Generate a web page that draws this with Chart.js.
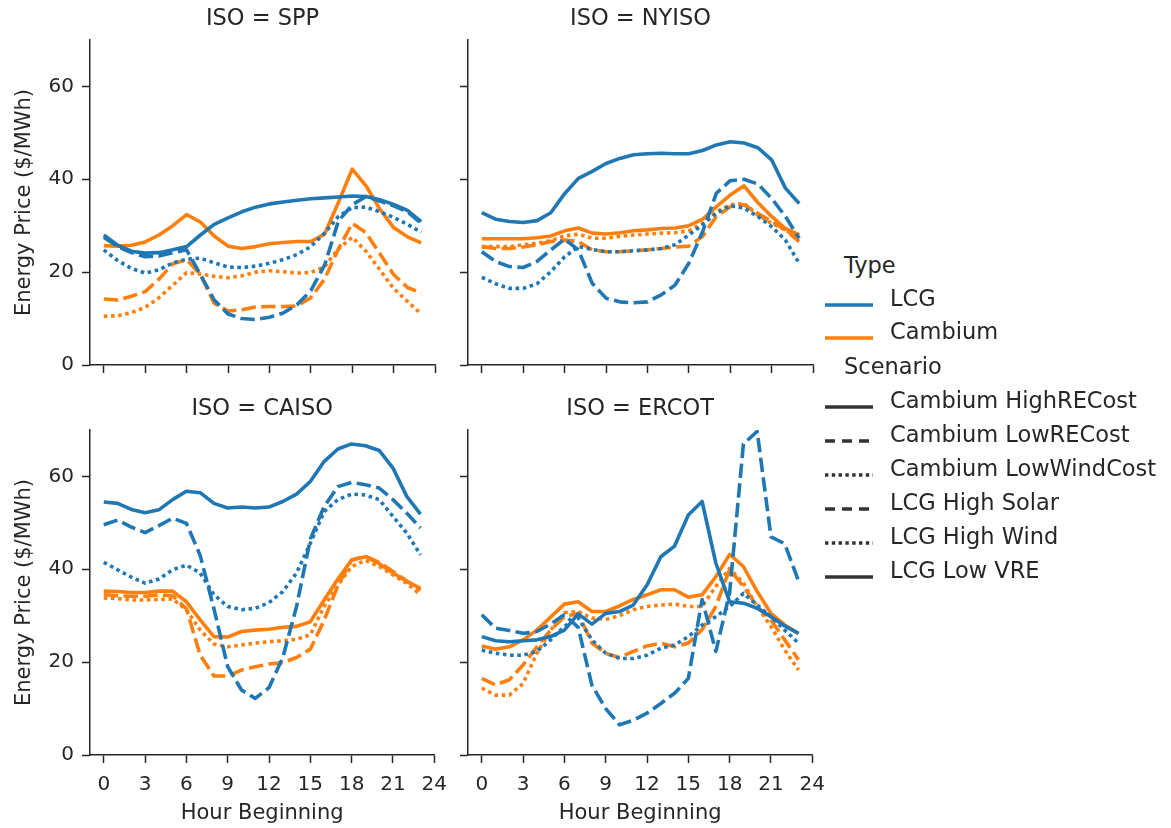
<!DOCTYPE html>
<html>
<head>
<meta charset="utf-8">
<script src="https://cdn.jsdelivr.net/npm/chart.js@4.4.1/dist/chart.umd.min.js"></script>
<style>
  body { margin: 0; background: #fff; width: 1171px; height: 828px; overflow: hidden;
         font-family: "DejaVu Sans", sans-serif; color: #262626; }
  canvas { position: absolute; }
  .row { position: absolute; height: 26px; line-height: 26px; font-size: 22.5px; white-space: nowrap; }
  .handle { position: absolute; left: 825px; width: 48px; height: 8px; }
</style>
</head>
<body>
<canvas id="spp" width="457" height="385" style="left:0;top:0"></canvas>
<canvas id="nyiso" width="385" height="385" style="left:450px;top:0"></canvas>
<canvas id="caiso" width="457" height="438" style="left:0;top:390px"></canvas>
<canvas id="ercot" width="385" height="438" style="left:450px;top:390px"></canvas>
<div id="legend"></div>
<script>
// hour of day, 0..23
const hours = [0, 1, 2, 3, 4, 5, 6, 7, 8, 9, 10, 11, 12, 13, 14, 15, 16, 17, 18, 19, 20, 21, 22, 23];
const xTicks = [0, 3, 6, 9, 12, 15, 18, 21, 24];
const yTicks = [0, 20, 40, 60];

// SPP
const sppLcgHighSolar = [27.5, 25.5, 24.2, 23.3, 23.5, 24.2, 24.8, 19.5, 14, 11, 10, 9.8, 10.3, 11.2, 13, 16, 21.5, 31, 34.5, 36.3, 35.3, 34.3, 33, 30.5];
const sppLcgHighWind = [24.8, 22.5, 20.8, 19.8, 20.5, 22, 22.8, 23, 22, 21.1, 21, 21.3, 21.9, 22.7, 23.8, 25.5, 28.4, 32, 33.9, 34, 33, 31.8, 30.3, 28.6];
const sppLcgLowVre = [28, 25.8, 24.5, 24.1, 24.2, 24.8, 25.5, 28, 30.3, 31.7, 33, 34, 34.7, 35.1, 35.5, 35.8, 36, 36.2, 36.4, 36.3, 35.6, 34.6, 33.3, 30.9];
const sppCamHighRe = [25.7, 25.6, 25.8, 26.5, 28, 30, 32.4, 30.8, 27.8, 25.6, 25.1, 25.5, 26.1, 26.4, 26.6, 26.6, 28.2, 35, 42.2, 38.6, 33.6, 29.6, 27.6, 26.3];
const sppCamLowRe = [14.2, 14, 14.8, 15.8, 18.5, 21.8, 22.7, 19.5, 13.3, 11.6, 11.9, 12.5, 12.6, 12.6, 12.7, 14.5, 18.5, 25, 30.5, 28.5, 24, 19.5, 16.7, 15.5];
const sppCamLowWind = [10.5, 10.6, 11.3, 12.4, 14.5, 17.2, 19.9, 19.6, 19.1, 18.8, 19.2, 20, 20.3, 20.1, 19.8, 19.9, 21.2, 25, 27.5, 24.5, 20.5, 16.5, 13.7, 11];

// NYISO
const nyLcgHighSolar = [24.4, 22.3, 21.2, 21, 22.3, 24.8, 27.1, 24.8, 17.6, 14.4, 13.6, 13.4, 13.6, 15.1, 17.2, 21.9, 28.7, 37, 39.7, 40, 39, 35.9, 32, 27.3];
const nyLcgHighWind = [18.9, 17.5, 16.5, 16.5, 17.5, 20.1, 23.3, 25.5, 24.9, 24.4, 24.4, 24.6, 24.8, 25.1, 25.9, 28, 30.2, 32.7, 34.3, 33.8, 32, 29.8, 26.9, 21.9];
const nyLcgLowVre = [32.8, 31.4, 30.9, 30.7, 31.1, 32.8, 36.9, 40.2, 41.7, 43.4, 44.5, 45.3, 45.5, 45.6, 45.5, 45.5, 46.2, 47.4, 48.1, 47.8, 46.8, 44.2, 38.1, 34.8];
const nyCamHighRe = [27.2, 27.2, 27.2, 27.2, 27.4, 27.8, 28.9, 29.5, 28.4, 28.2, 28.5, 28.9, 29.1, 29.4, 29.5, 30, 31.4, 34.1, 36.6, 38.6, 35, 32, 29.4, 28];
const nyCamLowRe = [25.5, 25.1, 25.1, 25.4, 25.9, 26.6, 26.9, 26.6, 24.8, 24.4, 24.4, 24.6, 24.8, 25.1, 25.4, 25.6, 27.7, 32, 34.1, 34.5, 32.7, 30.9, 29.1, 26.6];
const nyCamLowWind = [25.5, 25.5, 25.5, 25.9, 26.2, 26.8, 27.8, 28.2, 27.3, 27.3, 27.7, 28, 28.2, 28.4, 28.5, 28.9, 30.5, 33, 34.5, 34.8, 32.3, 30.5, 29.1, 27.1];

// CAISO
const caLcgHighSolar = [49.6, 50.6, 49.1, 47.9, 49.4, 51, 49.9, 43, 31.5, 19, 14, 12.2, 14.5, 21, 32, 46.5, 53.5, 57.8, 58.7, 58.2, 57.5, 55, 52.1, 48.9];
const caLcgHighWind = [41.5, 39.9, 38.3, 37, 37.9, 39.9, 40.9, 39.2, 34.5, 32, 31.3, 31.6, 32.8, 35.2, 39.2, 45.6, 52.4, 55, 56.2, 56, 55, 51.4, 47.8, 43.1];
const caLcgLowVre = [54.5, 54.2, 52.9, 52.2, 52.8, 55, 56.8, 56.5, 54.2, 53.2, 53.4, 53.2, 53.4, 54.6, 56.2, 58.9, 63.2, 65.9, 67, 66.6, 65.6, 61.8, 55.7, 51.9];
const caCamHighRe = [35.3, 35.2, 35, 35, 35.3, 35.3, 33, 29.1, 25.5, 25.4, 26.6, 26.9, 27.1, 27.5, 27.7, 28.7, 33.4, 37.9, 42, 42.7, 41.2, 39.2, 37.4, 35.9];
const caCamLowRe = [34.5, 34.3, 34.2, 34.2, 34.5, 34.3, 31.5, 21.5, 17, 17, 18.3, 19, 19.6, 19.9, 21, 22.8, 29, 36.5, 42, 42.8, 41.5, 39.5, 37.5, 35.5];
const caCamLowWind = [33.8, 33.7, 33.4, 33.4, 33.5, 33.6, 31.3, 26.9, 23.9, 23.3, 23.7, 24.1, 24.4, 24.6, 24.9, 25.9, 32, 36.6, 40.6, 41.9, 40.6, 38.8, 37, 34.5];

// ERCOT
const erLcgHighSolar = [30.2, 27.3, 26.8, 26.2, 26.6, 28.2, 30.2, 27.5, 15, 10, 6.5, 7.5, 9, 11.1, 13.3, 16.5, 33.5, 22.3, 35, 67, 69.7, 47, 45.5, 37.5];
const erLcgHighWind = [22.6, 21.9, 21.5, 21.5, 22.3, 24.8, 27.7, 29.5, 24.8, 21.9, 20.8, 20.8, 21.5, 23, 23.7, 25.5, 28, 29.8, 32, 34.8, 32.3, 29.8, 26.9, 24.1];
const erLcgLowVre = [25.5, 24.6, 24.4, 24.6, 24.8, 25.5, 26.9, 30.4, 28.2, 30.5, 30.9, 32.3, 36.6, 42.7, 45, 51.7, 54.6, 41.3, 33, 32.7, 31.6, 29.8, 27.8, 26.2];
const erCamHighRe = [23.5, 22.8, 23.3, 24.8, 26.9, 29.7, 32.5, 33, 30.9, 30.9, 32.1, 33.5, 34.5, 35.6, 35.6, 34, 34.5, 38.4, 43.2, 40.6, 35.2, 30.5, 28, 26.1];
const erCamLowRe = [16.5, 15.1, 16.2, 19.4, 23.3, 26.9, 29.8, 30.5, 24.1, 21.9, 21, 22.3, 23.5, 24.1, 23.3, 24.1, 27, 32, 40, 36.3, 32, 29.1, 24.8, 20.5];
const erCamLowWind = [14.4, 12.9, 12.9, 15.4, 21.9, 26.9, 30.7, 30.9, 29.5, 29.2, 30, 31.3, 32, 32.3, 32.5, 32, 32, 36.3, 40.2, 37, 32, 27.7, 22.6, 18.3];

const blue = '#1f77b4';
const orange = '#ff7f0e';
const ink = '#262626';
const lw = 3.6;
const solid = [];
const dashed = [4 * lw, 1.5 * lw];
const dotted = [lw, lw];

Chart.defaults.font.family = '"DejaVu Sans", sans-serif';
Chart.defaults.color = ink;

function line(values, color, dash) {
  return {
    data: values, borderColor: color, borderDash: dash, borderWidth: lw,
    pointRadius: 0, tension: 0, fill: false,
    borderJoinStyle: 'round', borderCapStyle: 'butt'
  };
}

function drawPanel(id, title, sets, bottomRow, leftCol) {
  new Chart(document.getElementById(id), {
    type: 'line',
    data: { labels: hours, datasets: sets },
    options: {
      responsive: false,
      animation: false,
      layout: { padding: { left: 0, right: 22, top: 0, bottom: 0 } },
      plugins: {
        legend: { display: false },
        tooltip: { enabled: false },
        title: {
          display: true, text: title, fullSize: false, color: ink,
          font: { size: 22.5, weight: 'normal' }, padding: { top: 6, bottom: 7 }
        }
      },
      scales: {
        x: {
          type: 'linear', min: -1, max: 24,
          afterBuildTicks: sc => { sc.ticks = xTicks.map(v => ({ value: v })); },
          afterFit: sc => { sc.height = bottomRow ? 73 : 20; },
          grid: { drawOnChartArea: false, drawTicks: true, tickLength: 8, tickWidth: 1.5, tickColor: ink },
          border: { display: true, color: ink, width: 1.5 },
          ticks: { display: bottomRow, font: { size: 20 }, padding: 10, color: ink, maxRotation: 0, autoSkip: false },
          title: { display: bottomRow, text: 'Hour Beginning', color: ink, font: { size: 21 }, padding: { top: 0, bottom: 2 } }
        },
        y: {
          min: 0, max: 70,
          afterBuildTicks: sc => { sc.ticks = yTicks.map(v => ({ value: v })); },
          afterFit: sc => { sc.width = leftCol ? 90 : 18; },
          grid: { drawOnChartArea: false, drawTicks: true, tickLength: 8, tickWidth: 1.5, tickColor: ink },
          border: { display: true, color: ink, width: 1.5 },
          ticks: { display: leftCol, font: { size: 20 }, padding: 8, color: ink },
          title: { display: leftCol, text: 'Energy Price ($/MWh)', color: ink, font: { size: 21 }, padding: { top: 12, bottom: 0 } }
        }
      }
    }
  });
}

drawPanel('spp', 'ISO = SPP', [
  line(sppLcgHighSolar, blue, dashed), line(sppLcgHighWind, blue, dotted), line(sppLcgLowVre, blue, solid),
  line(sppCamHighRe, orange, solid), line(sppCamLowRe, orange, dashed), line(sppCamLowWind, orange, dotted)
], false, true);

drawPanel('nyiso', 'ISO = NYISO', [
  line(nyLcgHighSolar, blue, dashed), line(nyLcgHighWind, blue, dotted), line(nyLcgLowVre, blue, solid),
  line(nyCamHighRe, orange, solid), line(nyCamLowRe, orange, dashed), line(nyCamLowWind, orange, dotted)
], false, false);

drawPanel('caiso', 'ISO = CAISO', [
  line(caLcgHighSolar, blue, dashed), line(caLcgHighWind, blue, dotted), line(caLcgLowVre, blue, solid),
  line(caCamHighRe, orange, solid), line(caCamLowRe, orange, dashed), line(caCamLowWind, orange, dotted)
], true, true);

drawPanel('ercot', 'ISO = ERCOT', [
  line(erLcgHighSolar, blue, dashed), line(erLcgHighWind, blue, dotted), line(erLcgLowVre, blue, solid),
  line(erCamHighRe, orange, solid), line(erCamLowRe, orange, dashed), line(erCamLowWind, orange, dotted)
], true, false);

// legend (html, like seaborn's figure legend)
const legendRows = [
  { text: 'Type', y: 264.2, head: true },
  { text: 'LCG', y: 297.5, color: blue, dash: '' },
  { text: 'Cambium', y: 331, color: orange, dash: '' },
  { text: 'Scenario', y: 365.5, head: true },
  { text: 'Cambium HighRECost', y: 399.5, color: '#333', dash: '' },
  { text: 'Cambium LowRECost', y: 433.5, color: '#333', dash: '10 7' },
  { text: 'Cambium LowWindCost', y: 467.7, color: '#333', dash: '3.4 3.4' },
  { text: 'LCG High Solar', y: 501.8, color: '#333', dash: '10 7' },
  { text: 'LCG High Wind', y: 536, color: '#333', dash: '3.4 3.4' },
  { text: 'LCG Low VRE', y: 570, color: '#333', dash: '' }
];
const legend = document.getElementById('legend');
legendRows.forEach(r => {
  const d = document.createElement('div');
  d.className = 'row';
  d.style.top = (r.y - 12.6) + 'px';
  d.style.left = (r.head ? 844 : 890) + 'px';
  d.textContent = r.text;
  legend.appendChild(d);
  if (!r.head) {
    const h = document.createElement('div');
    h.className = 'handle';
    h.style.top = (r.y - 4) + 'px';
    h.innerHTML = '<svg width="48" height="8"><line x1="0" y1="4" x2="48" y2="4" stroke="' + r.color +
      '" stroke-width="3.4" stroke-dasharray="' + r.dash + '"/></svg>';
    legend.appendChild(h);
  }
});
</script>
</body>
</html>
